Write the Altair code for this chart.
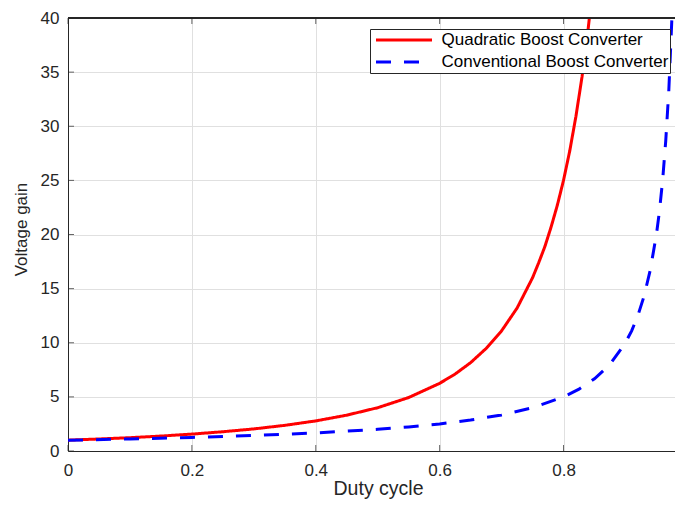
import altair as alt
import pandas as pd

series_names = ["Quadratic Boost Converter", "Conventional Boost Converter"]

duty_q = [0, 0.05, 0.1, 0.15, 0.2, 0.25, 0.3, 0.35, 0.4, 0.45, 0.5, 0.55, 0.6,
          0.625, 0.65, 0.675, 0.7, 0.725, 0.75, 0.76, 0.77, 0.78, 0.79, 0.8,
          0.81, 0.82, 0.83, 0.84, 0.85]
gain_q = [1.00, 1.11, 1.23, 1.38, 1.56, 1.78, 2.04, 2.37, 2.78, 3.31, 4.00, 4.94, 6.25,
          7.11, 8.16, 9.47, 11.1, 13.2, 16.0, 17.4, 18.9, 20.7, 22.7, 25.0,
          27.7, 30.9, 34.6, 39.1, 44.4]

duty_c = [0, 0.1, 0.2, 0.3, 0.4, 0.5, 0.55, 0.6, 0.65, 0.7, 0.75, 0.8, 0.825,
          0.85, 0.875, 0.9, 0.91, 0.92, 0.93, 0.94, 0.95, 0.955, 0.96, 0.965,
          0.97, 0.975, 0.98]
gain_c = [1.00, 1.11, 1.25, 1.43, 1.67, 2.00, 2.22, 2.50, 2.86, 3.33, 4.00, 5.00, 5.71,
          6.67, 8.00, 10.0, 11.1, 12.5, 14.3, 16.7, 20.0, 22.2, 25.0, 28.6,
          33.3, 40.0, 50.0]

x_ticks = [0, 0.2, 0.4, 0.6, 0.8]
y_ticks = [0, 5, 10, 15, 20, 25, 30, 35, 40]

df_q = pd.DataFrame({"duty": duty_q, "gain": gain_q, "series": series_names[0]})
df_c = pd.DataFrame({"duty": duty_c, "gain": gain_c, "series": series_names[1]})
df_xt = pd.DataFrame({"duty": x_ticks})
df_yt = pd.DataFrame({"gain": y_ticks})

FONT = "Liberation Sans"
AX = "#262626"

x_scale = alt.Scale(domain=[0, 0.98], nice=False, zero=False)
y_scale = alt.Scale(domain=[0, 40], nice=False, zero=False)

color_scale = alt.Scale(domain=series_names, range=["#ff0000", "#0000ff"])
dash_scale = alt.Scale(domain=series_names, range=[[1, 0], [15, 13]])

legend = alt.Legend(
    title=None, orient="none", legendX=302, legendY=11,
    symbolType="stroke", symbolSize=3136, symbolStrokeWidth=3,
    clipHeight=20, rowPadding=2, padding=1, symbolOffset=3.5,
    labelOffset=8, labelFontSize=17, labelFont=FONT, labelColor="#000000",
    labelLimit=400, strokeColor=AX, fillColor="white",
    labelExpr="datum.label + '  '",
)

x_axis = alt.Axis(
    values=x_ticks, format="~g", title="Duty cycle",
    ticks=False, tickSize=0, labelPadding=24, labelBaseline="alphabetic",
    labelFlush=False,
    labelFontSize=17, labelFont=FONT, labelColor=AX,
    titleFontSize=19.5, titleFont=FONT, titleColor=AX, titleFontWeight="normal",
    titleX=310, titleY=43, titleBaseline="alphabetic", titleAlign="center",
    domainColor=AX, domainWidth=1, grid=True, gridColor="#e0e0e0", gridWidth=1,
)
y_axis = alt.Axis(
    values=y_ticks, title="Voltage gain",
    ticks=False, tickSize=0, labelPadding=9, labelFlush=False,
    labelFontSize=17, labelFont=FONT, labelColor=AX,
    titleFontSize=17, titleFont=FONT, titleColor=AX, titleFontWeight="normal",
    titleX=-42, titleY=211, titleAngle=270, titleBaseline="alphabetic", titleAlign="center",
    domainColor=AX, domainWidth=1, grid=True, gridColor="#e0e0e0", gridWidth=1,
)


def X(field):
    return alt.X(field, scale=x_scale, axis=x_axis, title="Duty cycle")


def Y(field):
    return alt.Y(field, scale=y_scale, axis=y_axis, title="Voltage gain")


def XD(v):
    return alt.XDatum(v, scale=x_scale, axis=x_axis, title="Duty cycle")


def YD(v):
    return alt.YDatum(v, scale=y_scale, axis=y_axis, title="Voltage gain")


red = alt.Chart(df_q).mark_line(strokeWidth=3, clip=True).encode(
    x=X("duty:Q"), y=Y("gain:Q"),
    color=alt.Color("series:N", scale=color_scale, legend=legend),
    strokeDash=alt.StrokeDash("series:N", scale=dash_scale, legend=legend),
)
blue = alt.Chart(df_c).mark_line(strokeWidth=3, clip=True).encode(
    x=X("duty:Q"), y=Y("gain:Q"),
    color=alt.Color("series:N", scale=color_scale, legend=legend),
    strokeDash=alt.StrokeDash("series:N", scale=dash_scale, legend=legend),
)

top_border = alt.Chart(df_yt).mark_rule(color=AX, strokeWidth=1).encode(y=YD(40))
bottom_ticks = alt.Chart(df_xt).mark_tick(
    orient="vertical", size=6, thickness=1, color=AX, yOffset=-3
).encode(x=X("duty:Q"), y=YD(0))
top_ticks = alt.Chart(df_xt).mark_tick(
    orient="vertical", size=6, thickness=1, color=AX, yOffset=3
).encode(x=X("duty:Q"), y=YD(40))
left_ticks = alt.Chart(df_yt).mark_tick(
    orient="horizontal", size=6, thickness=1, color=AX, xOffset=3
).encode(y=Y("gain:Q"), x=XD(0))

chart = alt.layer(red, blue, top_border, bottom_ticks, top_ticks, left_ticks).properties(
    width=607, height=433,
    autosize=alt.AutoSizeParams(type="none"),
    padding={"left": 60, "top": 10, "right": 0, "bottom": 48},
    background="white",
).configure_view(stroke=None)

chart.save("out.html", embed_options={"renderer": "svg", "actions": False})
